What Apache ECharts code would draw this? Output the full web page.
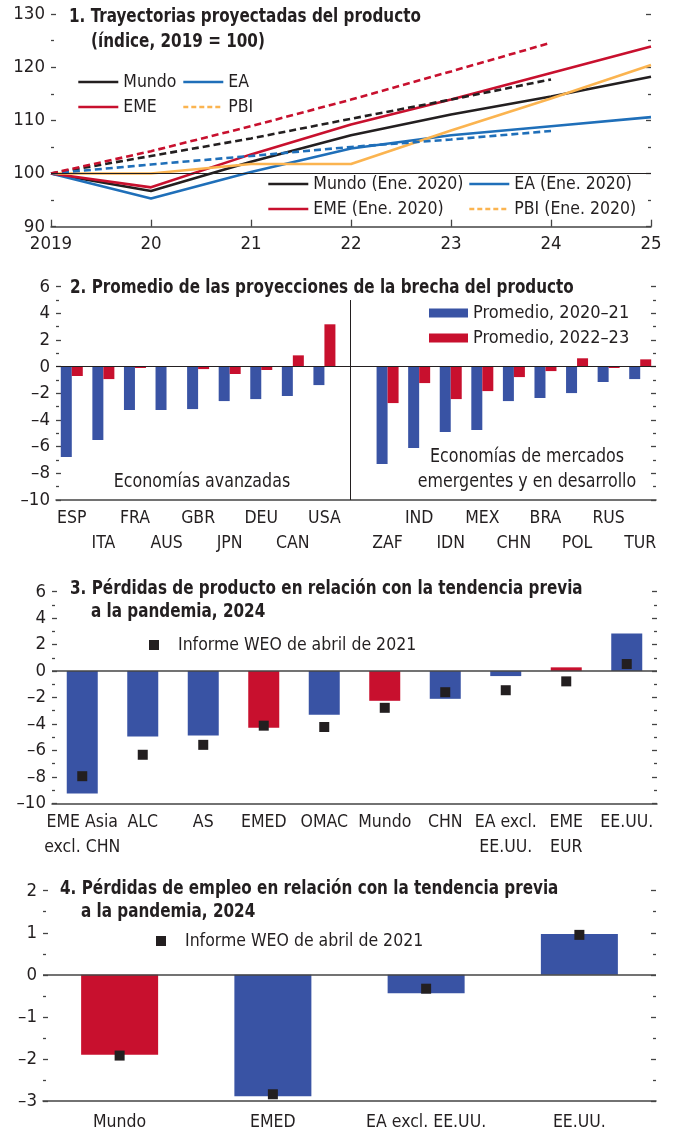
<!DOCTYPE html>
<html>
<head>
<meta charset="utf-8">
<script src="https://cdn.jsdelivr.net/npm/echarts@6/dist/echarts.min.js"></script>
<style>
  html, body { margin: 0; padding: 0; background: #fff; }
  #chart { width: 678px; height: 1135px; }
</style>
</head>
<body>
<div id="chart"></div>
<script>
// panel 1: output paths, index 2019 = 100
const years = [2019, 2020, 2021, 2022, 2023, 2024, 2025];
const mundo = [100, 96.7, 102.2, 107.2, 111.1, 114.5, 118.2];
const ea = [100, 95.3, 100.3, 104.7, 107.2, 108.9, 110.6];
const eme = [100, 97.4, 103.6, 109.2, 113.9, 118.9, 123.9];
const pbi = [100, 100, 101.8, 101.8, 108.1, 114.1, 120.4];
const yearsJan = [2019, 2020, 2021, 2022, 2023, 2024];
const mundoJan = [100, 103.3, 106.6, 110.3, 113.9, 117.7];
const eaJan = [100, 101.7, 103.3, 105.0, 106.4, 108.0];
const emeJan = [100, 104.2, 108.9, 113.9, 119.2, 124.6];
const pbiJan = [];

// panel 2: output gap averages
const cat2 = ['ESP', 'ITA', 'FRA', 'AUS', 'GBR', 'JPN', 'DEU', 'CAN', 'USA', '',
  'ZAF', 'IND', 'IDN', 'MEX', 'CHN', 'BRA', 'POL', 'RUS', 'TUR'];
const lowerRow2 = ['ITA', 'AUS', 'JPN', 'CAN', 'ZAF', 'IDN', 'CHN', 'POL', 'TUR'];
const gap2021 = [-6.78, -5.5, -3.25, -3.25, -3.18, -2.58, -2.43, -2.2, -1.38, null,
  -7.3, -6.1, -4.9, -4.75, -2.58, -2.35, -1.98, -1.15, -0.93];
const gap2223 = [-0.7, -0.93, -0.1, 0, -0.18, -0.55, -0.25, 0.85, 3.18, null,
  -2.73, -1.23, -2.43, -1.83, -0.78, -0.33, 0.63, -0.1, 0.55];

// panel 3: output losses 2024
const cat3 = ['EME Asia\nexcl. CHN', 'ALC', 'AS', 'EMED', 'OMAC', 'Mundo', 'CHN',
  'EA excl.\nEE.UU.', 'EME\nEUR', 'EE.UU.'];
const red3 = ['EMED', 'Mundo', 'EME\nEUR'];
const loss3 = [-9.25, -4.95, -4.88, -4.28, -3.3, -2.25, -2.1, -0.38, 0.28, 2.83];
const weo3 = [-7.95, -6.33, -5.58, -4.13, -4.23, -2.78, -1.6, -1.45, -0.78, 0.53];

// panel 4: employment losses 2024
const cat4 = ['Mundo', 'EMED', 'EA excl. EE.UU.', 'EE.UU.'];
const red4 = ['Mundo'];
const loss4 = [-1.9, -2.89, -0.44, 0.97];
const weo4 = [-1.92, -2.84, -0.33, 0.95];

const FONT = "'DejaVu Sans Condensed', 'Liberation Sans Narrow', 'Roboto', sans-serif";
const INK = '#231f20';
const AXIS = '#444';
const BLUE = '#3953a4';
const RED = '#c8102e';
const LBLUE = '#1f6fb9';
const ORANGE = '#fbb450';
const WEO = 'Informe WEO de abril de 2021';

const dash = v => (v < 0 ? '–' + Math.abs(v) : String(v));

const chart = echarts.init(document.getElementById('chart'));

function yAx(gi, min, max, step, labels) {
  return {
    type: 'value', gridIndex: gi, min: min, max: max, interval: step,
    position: labels ? 'left' : 'right',
    axisLine: { show: false },
    axisTick: { show: true, inside: true, length: 5, lineStyle: { color: AXIS, width: 1.3 } },
    minorTick: { show: true, splitNumber: 2, length: 3, lineStyle: { color: AXIS, width: 1.3 } },
    splitLine: { show: false },
    axisLabel: { show: labels, formatter: dash, fontFamily: FONT, fontSize: 18.5, color: INK, margin: 6 }
  };
}

function catAx(gi, data, fmt, margin) {
  return {
    type: 'category', gridIndex: gi, data: data,
    axisLine: { onZero: false, lineStyle: { color: AXIS, width: 1.5 } },
    axisTick: { inside: true, length: 7, alignWithLabel: true, lineStyle: { color: AXIS, width: 1.3 } },
    axisLabel: { interval: 0, fontFamily: FONT, fontSize: 17.5, color: INK, lineHeight: 25, margin: margin, formatter: fmt },
    splitLine: { show: false }
  };
}

function line(name, xs, vals, color, dashed) {
  return {
    name: name, type: 'line', xAxisIndex: 0, yAxisIndex: 0, symbol: 'none',
    data: xs.map((x, i) => [x, vals[i]]),
    lineStyle: { color: color, width: 2.6, type: dashed ? [7, 4] : 'solid' },
    itemStyle: { color: color }
  };
}

// condensed-looking text: scale horizontally around its anchor
function label(text, x, y, opts) {
  opts = opts || {};
  return {
    type: 'text', x: x, y: y, scaleX: opts.sx || 0.89, silent: true,
    style: {
      text: text, fill: INK, lineHeight: 25,
      font: (opts.bold === false ? '' : 'bold ') + '19px ' + FONT,
      textAlign: opts.align || 'left', textVerticalAlign: 'middle'
    }
  };
}

const legendText = size => ({ fontFamily: FONT, fontSize: size, color: INK, lineHeight: 20 });
function lineLegend(items, left, top) {
  return {
    data: items, left: left, top: top, orient: 'vertical', padding: 0, itemGap: 5,
    itemWidth: 40, itemHeight: 10, textStyle: legendText(17.5), selectedMode: false,
    itemStyle: { opacity: 0 }, lineStyle: { width: 2.6 }
  };
}
function squareLegend(left, top) {
  return {
    data: [WEO], left: left, top: top, padding: 0, itemWidth: 10, itemHeight: 10, icon: 'rect',
    selectedMode: false, textStyle: Object.assign({ padding: [0, 0, 0, 14] }, legendText(17.5))
  };
}

const series = [
  line('Mundo', years, mundo, INK, false),
  line('EA', years, ea, LBLUE, false),
  line('EME', years, eme, RED, false),
  line('PBI', years, pbi, ORANGE, false),
  line('Mundo (Ene. 2020)', yearsJan, mundoJan, INK, true),
  line('EA (Ene. 2020)', yearsJan, eaJan, LBLUE, true),
  line('EME (Ene. 2020)', yearsJan, emeJan, RED, true),
  line('PBI (Ene. 2020)', yearsJan, pbiJan, ORANGE, true)
];
series[0].markLine = {
  silent: true, symbol: 'none', label: { show: false },
  lineStyle: { color: INK, width: 1, type: 'solid' }, data: [{ yAxis: 100 }]
};

series.push({
  name: 'Promedio, 2020–21', type: 'bar', xAxisIndex: 1, yAxisIndex: 2,
  data: gap2021, barWidth: 11, barGap: '0%', itemStyle: { color: BLUE },
  markLine: {
    silent: true, symbol: 'none', label: { show: false },
    lineStyle: { color: INK, width: 1, type: 'solid' },
    data: [{ yAxis: 0 }, [{ coord: [9, -10] }, { coord: [9, 5] }]]
  }
});
series.push({
  name: 'Promedio, 2022–23', type: 'bar', xAxisIndex: 1, yAxisIndex: 2,
  data: gap2223, barWidth: 11, barGap: '0%', itemStyle: { color: RED }
});

series.push({
  name: 'Pérdidas 3', type: 'bar', xAxisIndex: 2, yAxisIndex: 4, barWidth: 31,
  data: loss3.map((v, i) => ({ value: v, itemStyle: { color: red3.includes(cat3[i]) ? RED : BLUE } })),
  markLine: {
    silent: true, symbol: 'none', label: { show: false },
    lineStyle: { color: AXIS, width: 1.5, type: 'solid' }, data: [{ yAxis: 0 }]
  }
});
series.push({
  name: WEO, type: 'scatter', xAxisIndex: 2, yAxisIndex: 4, symbol: 'rect', symbolSize: 10,
  data: weo3, itemStyle: { color: INK, opacity: 1 }, z: 5
});

series.push({
  name: 'Pérdidas 4', type: 'bar', xAxisIndex: 3, yAxisIndex: 6, barWidth: 77,
  data: loss4.map((v, i) => ({ value: v, itemStyle: { color: red4.includes(cat4[i]) ? RED : BLUE } })),
  markLine: {
    silent: true, symbol: 'none', label: { show: false },
    lineStyle: { color: AXIS, width: 1.5, type: 'solid' }, data: [{ yAxis: 0 }]
  }
});
series.push({
  name: WEO, type: 'scatter', xAxisIndex: 3, yAxisIndex: 6, symbol: 'rect', symbolSize: 10,
  data: weo4, itemStyle: { color: INK, opacity: 1 }, z: 5
});

const option = {
  animation: false,
  backgroundColor: '#fff',
  textStyle: { fontFamily: FONT },
  grid: [
    { left: 51, top: 14, width: 600, height: 212.7 },
    { left: 56, top: 286.7, width: 600, height: 213.3 },
    { left: 52, top: 591.7, width: 605, height: 211.6 },
    { left: 43, top: 890.7, width: 613, height: 215 }
  ],
  xAxis: [
    {
      type: 'value', gridIndex: 0, min: 2019, max: 2025, interval: 1,
      axisLine: { lineStyle: { color: AXIS, width: 1.5 } },
      axisTick: { inside: true, length: 7, lineStyle: { color: AXIS, width: 1.3 } },
      axisLabel: {
        fontFamily: FONT, fontSize: 18.5, color: INK, margin: 8,
        formatter: v => (v === 2019 ? '2019' : String(v).slice(2))
      },
      splitLine: { show: false }
    },
    catAx(1, cat2, v => (lowerRow2.includes(v) ? '\n' + v : v), 6),
    catAx(2, cat3, null, 7),
    catAx(3, cat4, null, 9)
  ],
  yAxis: [
    yAx(0, 90, 130, 10, true), yAx(0, 90, 130, 10, false),
    yAx(1, -10, 6, 2, true), yAx(1, -10, 6, 2, false),
    yAx(2, -10, 6, 2, true), yAx(2, -10, 6, 2, false),
    yAx(3, -3, 2, 1, true), yAx(3, -3, 2, 1, false)
  ],
  legend: [
    lineLegend(['Mundo', 'EME'], 77, 72),
    lineLegend(['EA', { name: 'PBI', lineStyle: { type: [5, 3] } }], 182, 72),
    lineLegend([{ name: 'Mundo (Ene. 2020)', lineStyle: { type: 'solid' } },
      { name: 'EME (Ene. 2020)', lineStyle: { type: 'solid' } }], 267, 174),
    lineLegend([{ name: 'EA (Ene. 2020)', lineStyle: { type: 'solid' } },
      { name: 'PBI (Ene. 2020)', lineStyle: { type: [5, 3] } }], 468, 174),
    {
      data: ['Promedio, 2020–21', 'Promedio, 2022–23'], left: 429, top: 303, orient: 'vertical',
      padding: 0, itemGap: 5, itemWidth: 39, itemHeight: 9, icon: 'rect', selectedMode: false,
      textStyle: legendText(18)
    },
    squareLegend(149, 635),
    squareLegend(156, 931)
  ],
  graphic: [
    label('1. Trayectorias proyectadas del producto', 69, 17),
    label('(índice, 2019 = 100)', 91, 42),
    label('2. Promedio de las proyecciones de la brecha del producto', 70, 288),
    label('3. Pérdidas de producto en relación con la tendencia previa', 70, 589),
    label('a la pandemia, 2024', 91, 612),
    label('4. Pérdidas de empleo en relación con la tendencia previa', 60, 889),
    label('a la pandemia, 2024', 81, 912),
    label('Economías avanzadas', 202, 482, { bold: false, align: 'center', sx: 0.93 }),
    label('Economías de mercados\nemergentes y en desarrollo', 527, 470, { bold: false, align: 'center', sx: 0.93 })
  ],
  series: series
};

chart.setOption(option);
</script>
</body>
</html>
